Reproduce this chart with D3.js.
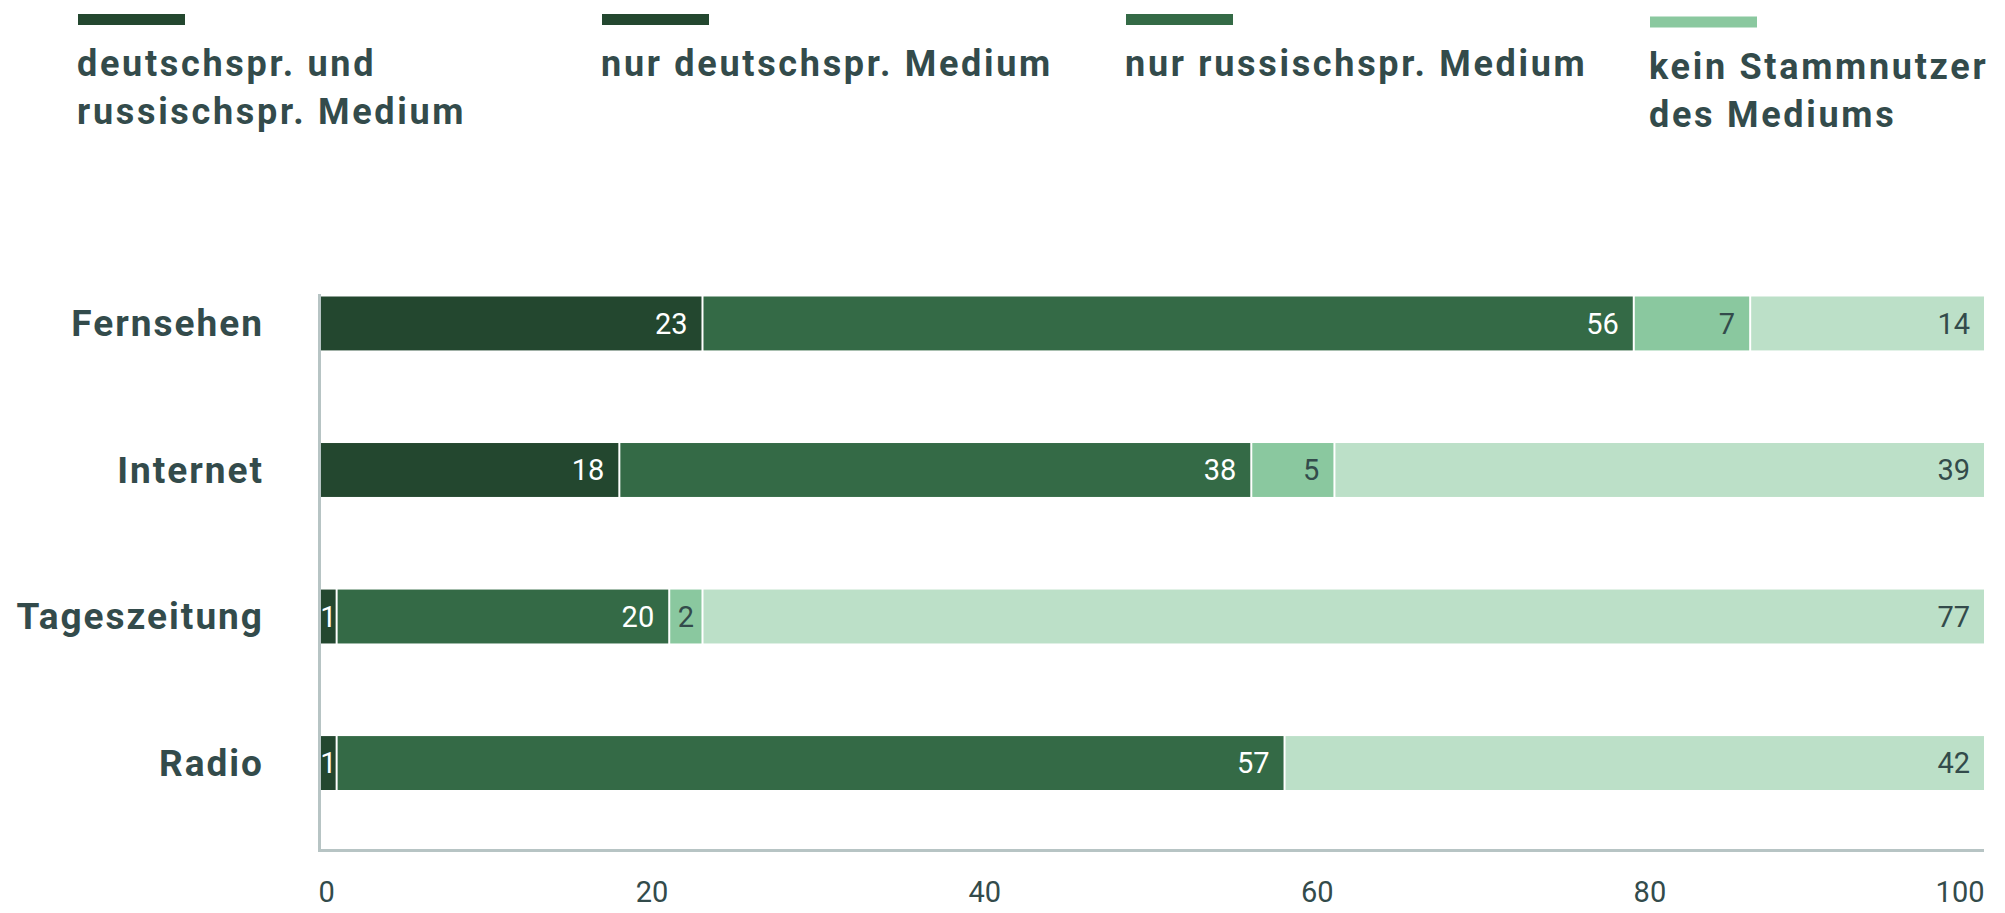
<!DOCTYPE html>
<html>
<head>
<meta charset="utf-8">
<script src="https://cdn.jsdelivr.net/npm/d3@7"></script>
<style>
  html, body { margin: 0; padding: 0; background: #ffffff; }
  svg { display: block; }
  text { font-family: Roboto, "Noto Sans", sans-serif; }
</style>
</head>
<body>
<svg id="chart" width="2005" height="913"></svg>
<script>
// ---- data ----
const categories = ["Fernsehen", "Internet", "Tageszeitung", "Radio"];
const seriesNames = [
  ["deutschspr. und", "russischspr. Medium"],
  ["nur deutschspr. Medium"],
  ["nur russischspr. Medium"],
  ["kein Stammnutzer", "des Mediums"]
];
const bothLanguages   = [23, 18, 1, 1];
const germanOnly      = [56, 38, 20, 57];
const russianOnly     = [7, 5, 2, 0];
const noRegularUser   = [14, 39, 77, 42];
const tickValues = [0, 20, 40, 60, 80, 100];

// ---- styles ----
const segColors = ["#23472f", "#346a46", "#8ac89f", "#bce0c8"];
const legendColors = ["#23472f", "#23472f", "#346a46", "#8ac89f"];
const labelColors = ["#ffffff", "#ffffff", "#334b4b", "#334b4b"];
const textColor = "#334b4b";
const axisColor = "#b7c4c4";

const series = [bothLanguages, germanOnly, russianOnly, noRegularUser];

const svg = d3.select("#chart");

const x = d3.scaleLinear().domain([0, 100]).range([321, 1984]);
const y = d3.scaleBand().domain(categories).range([296.5, 790]).paddingInner(0.632).paddingOuter(0);

// ---- legend ----
const legendX = d3.scaleBand().domain(d3.range(4)).range([78, 78 + 4 * 524]);
const legendOffsets = [0, 0, 0, 2.5];
const lg = svg.append("g");
seriesNames.forEach((lines, i) => {
  const g = lg.append("g").attr("transform", `translate(${legendX(i)},${legendOffsets[i]})`);
  g.append("rect").attr("x", 0).attr("y", 14).attr("width", 107).attr("height", 11)
    .attr("fill", legendColors[i]);
  lines.forEach((t, j) => {
    g.append("text").attr("x", -1).attr("y", 76 + j * 48)
      .attr("font-size", 36).attr("font-weight", 700).attr("letter-spacing", 2.7)
      .attr("fill", textColor).text(t);
  });
});

// ---- bars ----
const stacked = categories.map((c, ci) => {
  let acc = 0;
  return series.map((s, si) => {
    const v = s[ci];
    const d = { cat: c, si, v, x0: acc, x1: acc + v };
    acc += v;
    return d;
  });
});

const barG = svg.append("g");
stacked.forEach(row => {
  const last = row.filter(d => d.v > 0).slice(-1)[0];
  row.filter(d => d.v > 0).forEach(d => {
    const x0 = x(d.x0);
    const x1 = x(d.x1) - (d === last ? 0 : 2);
    barG.append("rect")
      .attr("x", x0).attr("y", y(d.cat))
      .attr("width", Math.max(0, x1 - x0)).attr("height", y.bandwidth())
      .attr("fill", segColors[d.si]);
    const t = barG.append("text")
      .attr("y", y(d.cat) + y.bandwidth() / 2)
      .attr("dy", "0.35em")
      .attr("font-size", 29).attr("font-weight", 400)
      .attr("fill", labelColors[d.si])
      .text(d.v);
    const tw = t.node().getComputedTextLength();
    const w = x1 - x0;
    if (w < tw + 28) {
      t.attr("x", (x0 + x1) / 2).attr("text-anchor", "middle");
    } else {
      t.attr("x", x1 - 14).attr("text-anchor", "end");
    }
  });
});

// ---- category labels ----
svg.append("g").selectAll("text").data(categories).join("text")
  .attr("x", 264).attr("y", d => y(d) + y.bandwidth() / 2)
  .attr("dy", "0.35em")
  .attr("text-anchor", "end")
  .attr("font-size", 37).attr("font-weight", 700).attr("letter-spacing", 2)
  .attr("fill", textColor)
  .text(d => d);

// ---- axes ----
svg.append("line").attr("x1", 319.5).attr("x2", 319.5).attr("y1", 294).attr("y2", 852)
  .attr("stroke", axisColor).attr("stroke-width", 3);
svg.append("line").attr("x1", 318).attr("x2", 1984).attr("y1", 850.5).attr("y2", 850.5)
  .attr("stroke", axisColor).attr("stroke-width", 3);

const xAxis = d3.axisBottom(x).tickValues(tickValues).tickSize(0).tickPadding(0);
const axG = svg.append("g").attr("transform", "translate(0,892)").call(xAxis);
axG.select(".domain").remove();
axG.selectAll("text")
  .attr("y", 0).attr("dy", "0.35em")
  .attr("font-family", "Roboto, sans-serif")
  .attr("font-size", 29).attr("fill", textColor)
  .attr("text-anchor", (d, i) => i === 0 ? "start" : (i === tickValues.length - 1 ? "end" : "middle"))
  .attr("dx", (d, i) => i === 0 ? -3 : (i === tickValues.length - 1 ? 0 : -2));
</script>
</body>
</html>
